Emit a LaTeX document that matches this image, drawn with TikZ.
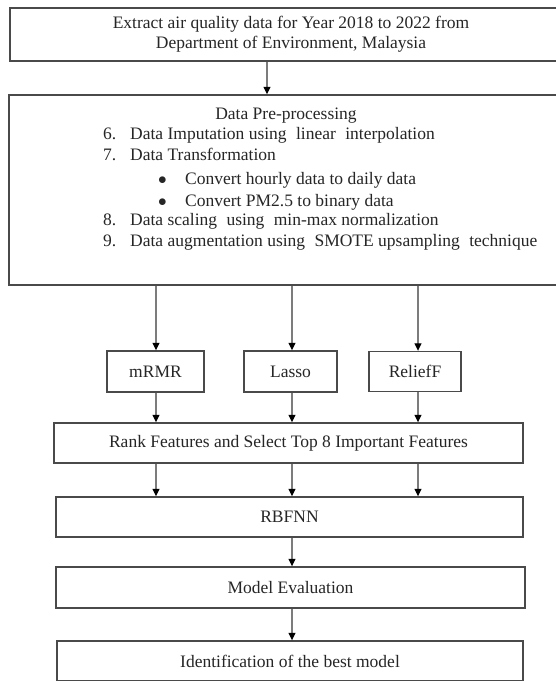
\documentclass[tikz,border=0pt]{standalone}
\usepackage{fontspec}
\setmainfont{Liberation Serif}
\usetikzlibrary{arrows.meta}
\definecolor{boxline}{HTML}{4A4A4A}
\definecolor{linkline}{HTML}{7C7C7C}
\definecolor{ink}{HTML}{262626}
\newcommand{\wsp}{\hspace{5pt}}
\begin{document}
\begin{tikzpicture}[x=1pt,y=-1pt,
  box/.style={draw=boxline, line width=1.4pt, inner sep=0pt, text=ink,
    font=\fontsize{17.5}{20}\selectfont, align=center},
  txt/.style={inner sep=0pt, text=ink, font=\fontsize{17.5}{20}\selectfont, anchor=base west},
  link/.style={draw=linkline, line width=1.1pt,
    -{Triangle[length=7.5pt,width=7pt,color=black]}}]
  % page area
  \useasboundingbox[fill=white] (0,0) rectangle (556,681);

  % boxes (the two upper ones run past the right edge of the page)
  \node[box, minimum width=562pt, minimum height=53pt] (extract) at (291,34.5)
    {Extract air quality data for Year 2018 to 2022 from\\Department of Environment, Malaysia};
  \node[box, minimum width=556pt, minimum height=190pt] (prep) at (287,190) {};

  % pre-processing steps
  \node[txt, anchor=base] (ph) at (286,119) {Data Pre-processing};
  \node[txt] (n6) at (103,139) {6.};
  \node[txt] (s6) at (130,139) {Data Imputation using\wsp{} linear\wsp{} interpolation};
  \node[txt] (n7) at (103,160) {7.};
  \node[txt] (s7) at (130,160) {Data Transformation};
  \node[txt] (b1) at (158,184) {$\bullet$};
  \node[txt] (c1) at (185,184) {Convert hourly data to daily data};
  \node[txt] (b2) at (158,206) {$\bullet$};
  \node[txt] (c2) at (185,206) {Convert PM2.5 to binary data};
  \node[txt] (n8) at (103,225) {8.};
  \node[txt] (s8) at (130,225) {Data scaling\wsp{} using\wsp{} min-max normalization};
  \node[txt] (n9) at (103,246) {9.};
  \node[txt] (s9) at (130,246) {Data augmentation using\wsp{} SMOTE upsampling\wsp{} technique};

  % feature selection methods
  \node[box, minimum width=97pt, minimum height=41pt] (mrmr) at (155.5,371.5) {mRMR};
  \node[box, minimum width=93pt, minimum height=41pt] (lasso) at (290.5,371.5) {Lasso};
  \node[box, minimum width=92pt, minimum height=40pt] (relief) at (415,371.5) {ReliefF};

  \node[box, minimum width=469pt, minimum height=40pt] (rank) at (288.5,443)
    {Rank Features and Select Top 8 Important Features};
  \node[box, minimum width=467pt, minimum height=40pt] (rbf) at (289.5,517) {RBFNN};
  \node[box, minimum width=469pt, minimum height=41pt] (eval) at (290.5,587.5) {Model Evaluation};
  \node[box, minimum width=466pt, minimum height=40pt] (best) at (290,661)
    {Identification of the best model};

  % connector columns
  \coordinate (k0) at (267,0);
  \coordinate (k1) at (156,0);
  \coordinate (k2) at (292,0);
  \coordinate (k3) at (418,0);

  \draw[link] (extract.south -| k0) -- (prep.north -| k0);
  \draw[link] (prep.south -| k1) -- (mrmr.north -| k1);
  \draw[link] (prep.south -| k2) -- (lasso.north -| k2);
  \draw[link] (prep.south -| k3) -- (relief.north -| k3);
  \draw[link] (mrmr.south -| k1) -- (rank.north -| k1);
  \draw[link] (lasso.south -| k2) -- (rank.north -| k2);
  \draw[link] (relief.south -| k3) -- (rank.north -| k3);
  \draw[link] (rank.south -| k1) -- (rbf.north -| k1);
  \draw[link] (rank.south -| k2) -- (rbf.north -| k2);
  \draw[link] (rank.south -| k3) -- (rbf.north -| k3);
  \draw[link] (rbf.south -| k2) -- (eval.north -| k2);
  \draw[link] (eval.south -| k2) -- (best.north -| k2);
\end{tikzpicture}
\end{document}
